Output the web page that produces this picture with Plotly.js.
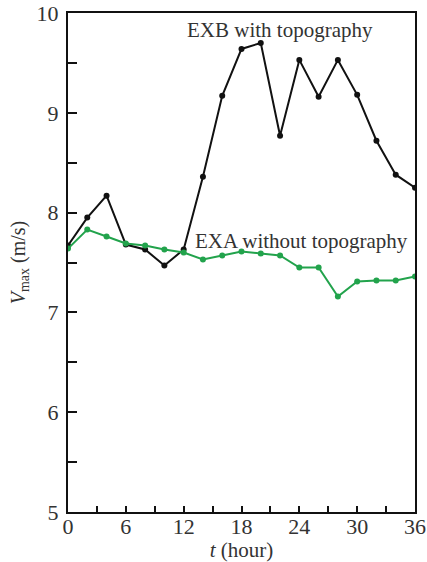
<!DOCTYPE html>
<html>
<head>
<meta charset="utf-8">
<script src="https://cdn.plot.ly/plotly-3.0.1.min.js"></script>
<style>html,body{margin:0;padding:0;background:#fff;}#chart{width:427px;height:562px;}</style>
</head>
<body>
<div id="chart"></div>
<script>
const hours = [0,2,4,6,8,10,12,14,16,18,20,22,24,26,28,30,32,34,36];
const exbWithTopo = [7.67,7.95,8.17,7.68,7.63,7.47,7.63,8.36,9.17,9.64,9.70,8.77,9.53,9.16,9.53,9.18,8.72,8.38,8.25];
const exaWithoutTopo = [7.64,7.83,7.76,7.69,7.67,7.63,7.60,7.53,7.57,7.61,7.59,7.57,7.45,7.45,7.16,7.31,7.32,7.32,7.36];
const xTickVals = [0,6,12,18,24,30,36];
const yTickVals = [5,6,7,8,9,10];
const labelExb = "EXB with topography";
const labelExa = "EXA without topography";

const font = "Liberation Serif, Times New Roman, serif";
const txt = "#333";
const traces = [
  {x: hours, y: exbWithTopo, mode: "lines+markers", line: {color: "#111", width: 2}, marker: {color: "#111", size: 6}, showlegend: false},
  {x: hours, y: exaWithoutTopo, mode: "lines+markers", line: {color: "#22a34c", width: 2}, marker: {color: "#22a34c", size: 6}, showlegend: false}
];
const layout = {
  width: 427, height: 562,
  margin: {l: 68, r: 12, t: 13, b: 50},
  paper_bgcolor: "#fff", plot_bgcolor: "#fff",
  font: {family: font, size: 21, color: txt},
  xaxis: {
    range: [0, 36], tickvals: xTickVals, ticks: "inside", ticklen: 6, tickwidth: 2, tickcolor: "#111",
    showline: true, linewidth: 2, linecolor: "#111", mirror: true, showgrid: false, zeroline: false,
    minor: {dtick: 3, ticks: "inside", ticklen: 6, tickwidth: 2, tickcolor: "#111", showgrid: false},
    tickfont: {family: font, size: 22, color: txt}, ticklabelstandoff: -6,
    title: {text: "<i>t</i> (hour)", font: {family: font, size: 21, color: txt}, standoff: 3}
  },
  yaxis: {
    range: [5, 10], tickvals: yTickVals, ticks: "inside", ticklen: 9, tickwidth: 2, tickcolor: "#111",
    showline: true, linewidth: 2, linecolor: "#111", mirror: true, showgrid: false, zeroline: false,
    minor: {dtick: 0.5, ticks: "inside", ticklen: 9, tickwidth: 2, tickcolor: "#111", showgrid: false},
    tickfont: {family: font, size: 22, color: txt}, ticklabelstandoff: 3,
    title: {text: "<i>V</i><sub>max</sub> (m/s)", font: {family: font, size: 20, color: txt}, standoff: 6}
  },
  annotations: [
    {x: 0.611, y: 9.83, xref: "paper", yref: "y", text: labelExb, showarrow: false, xanchor: "center", yanchor: "middle", font: {family: font, size: 21, color: txt}},
    {x: 0.674, y: 7.72, xref: "paper", yref: "y", text: labelExa, showarrow: false, xanchor: "center", yanchor: "middle", font: {family: font, size: 21, color: txt}}
  ]
};
Plotly.newPlot("chart", traces, layout, {displayModeBar: false, staticPlot: true});
</script>
</body>
</html>
